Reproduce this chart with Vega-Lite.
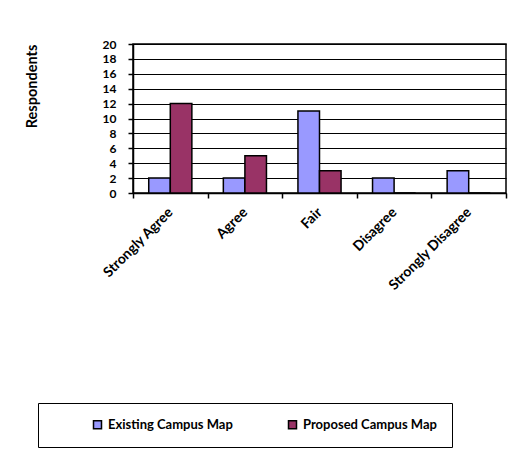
{
  "$schema": "https://vega.github.io/schema/vega-lite/v6.json",
  "width": 373,
  "height": 149,
  "autosize": {"type": "none"},
  "padding": {"left": 133, "top": 44, "right": 14, "bottom": 261},
  "background": "white",
  "data": {
    "values": [
      {"rating": "Strongly Agree", "map": "Existing Campus Map", "count": 2},
      {"rating": "Strongly Agree", "map": "Proposed Campus Map", "count": 12},
      {"rating": "Agree", "map": "Existing Campus Map", "count": 2},
      {"rating": "Agree", "map": "Proposed Campus Map", "count": 5},
      {"rating": "Fair", "map": "Existing Campus Map", "count": 11},
      {"rating": "Fair", "map": "Proposed Campus Map", "count": 3},
      {"rating": "Disagree", "map": "Existing Campus Map", "count": 2},
      {"rating": "Disagree", "map": "Proposed Campus Map", "count": 0},
      {"rating": "Strongly Disagree", "map": "Existing Campus Map", "count": 3},
      {"rating": "Strongly Disagree", "map": "Proposed Campus Map", "count": 0}
    ]
  },
  "mark": {"type": "bar", "stroke": "black", "strokeWidth": 1.5},
  "encoding": {
    "x": {
      "field": "rating",
      "type": "nominal",
      "sort": ["Strongly Agree", "Agree", "Fair", "Disagree", "Strongly Disagree"],
      "scale": {"paddingInner": 0, "paddingOuter": 0},
      "axis": {
        "title": null,
        "tickBand": "extent",
        "tickSize": 5,
        "tickColor": "black",
        "tickWidth": 1.5,
        "domainColor": "black",
        "domainWidth": 1.5,
        "labelAngle": -45,
        "labelAlign": "right",
        "labelBaseline": "middle",
        "labelPadding": 12,
        "labelFont": "Lato",
        "labelFontSize": 14,
        "labelFontWeight": "bold",
        "labelColor": "black",
        "labelOverlap": false,
        "grid": false
      }
    },
    "xOffset": {
      "field": "map",
      "type": "nominal",
      "scale": {"paddingOuter": 0.73, "paddingInner": 0}
    },
    "y": {
      "field": "count",
      "type": "quantitative",
      "scale": {"domain": [0, 20], "nice": false},
      "axis": {
        "title": "Respondents",
        "titleFont": "Lato",
        "titleFontSize": 14.5,
        "titleFontWeight": "bold",
        "titleColor": "black",
        "titleX": -101,
        "titleY": 42,
        "titleAlign": "center",
        "titleBaseline": "middle",
        "titleAngle": -90,
        "values": [0, 2, 4, 6, 8, 10, 12, 14, 16, 18, 20],
        "labelOverlap": false,
        "grid": true,
        "gridColor": "black",
        "gridWidth": 1,
        "gridOpacity": 1,
        "tickSize": 5,
        "tickColor": "black",
        "tickWidth": 1.5,
        "domainColor": "black",
        "domainWidth": 1.5,
        "labelPadding": 12,
        "labelFont": "Lato",
        "labelFontSize": 12,
        "labelFontWeight": "bold",
        "labelColor": "black"
      }
    },
    "fill": {
      "field": "map",
      "type": "nominal",
      "scale": {
        "domain": ["Existing Campus Map", "Proposed Campus Map"],
        "range": ["#9999FF", "#993366"]
      },
      "legend": {
        "title": null,
        "orient": "none",
        "legendX": -95,
        "legendY": 359,
        "direction": "horizontal",
        "strokeColor": "black",
        "padding": 15,
        "symbolOffset": 38,
        "symbolType": "square",
        "symbolSize": 64,
        "symbolStrokeColor": "black",
        "symbolStrokeWidth": 1.5,
        "labelOffset": 4,
        "columnPadding": 15,
        "labelFont": "Lato",
        "labelFontSize": 13,
        "labelFontWeight": "bold",
        "labelColor": "black",
        "labelLimit": 400
      }
    }
  },
  "config": {
    "view": {"stroke": "black", "strokeWidth": 1.5}
  }
}
